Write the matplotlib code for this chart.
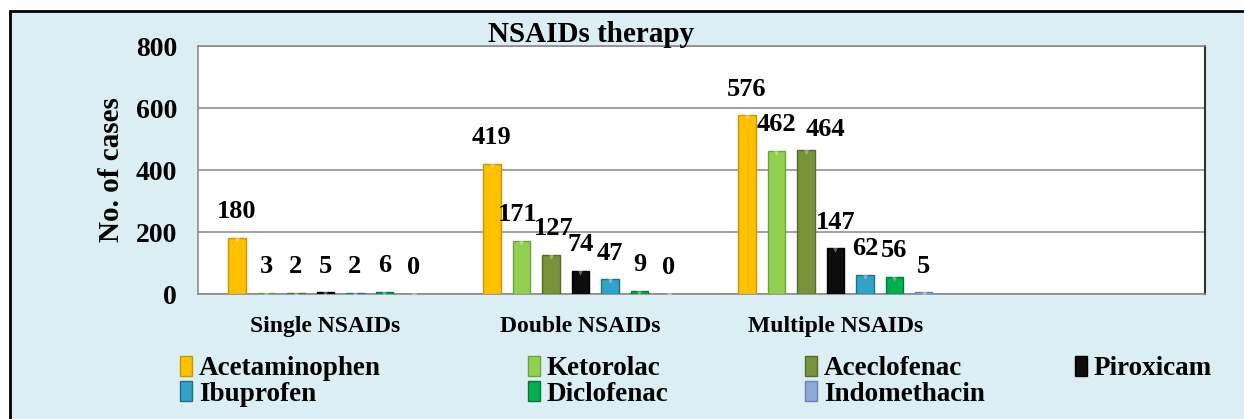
import numpy as np
import matplotlib.pyplot as plt
from matplotlib.patches import Rectangle

# Data
groups = ['Single NSAIDs', 'Double NSAIDs', 'Multiple NSAIDs']
drugs = ['Acetaminophen', 'Ketorolac', 'Aceclofenac', 'Piroxicam',
         'Ibuprofen', 'Diclofenac', 'Indomethacin']
acetaminophen = [180, 419, 576]
ketorolac = [3, 171, 462]
aceclofenac = [2, 127, 464]
piroxicam = [5, 74, 147]
ibuprofen = [2, 47, 62]
diclofenac = [6, 9, 56]
indomethacin = [0, 0, 5]
series = [acetaminophen, ketorolac, aceclofenac, piroxicam,
          ibuprofen, diclofenac, indomethacin]

colors = ['#FFC000', '#92D050', '#77933C', '#0D0D0D',
          '#31A3C6', '#00B050', '#8EA9DB']
edges = ['#C99700', '#6FA33A', '#566B2A', '#000000',
         '#216F87', '#007A3A', '#6A83B0']

# label nudges (points) where labels would collide: (series, group) -> (dx, dy)
nudges = {(2, 2): (14, -4), (1, 1): (-3, 0), (2, 1): (2, 0)}

plt.rcParams['font.family'] = ['Liberation Serif', 'DejaVu Serif']
plt.rcParams['font.weight'] = 'bold'

fig = plt.figure(figsize=(12.44, 4.19), dpi=100)
fig.patch.set_facecolor('white')

# light blue chart area with black frame
frame = Rectangle((10 / 1244, -0.02), 1.0, 1 - 11 / 419 + 0.02,
                  transform=fig.transFigure, facecolor='#DBEEF4',
                  edgecolor='black', linewidth=2, zorder=-10)
fig.patches.append(frame)

ax = fig.add_axes([198 / 1244, 1 - 294 / 419, 1007 / 1244, 248 / 419])
ax.set_facecolor('white')

x = np.arange(len(groups))
pitch = 0.1157
width = 0.068
for i, (vals, c, e) in enumerate(zip(series, colors, edges)):
    pos = x + (i - 3) * pitch
    ax.bar(pos, vals, width=width, color=c, edgecolor=e, linewidth=1,
           label=drugs[i], zorder=3)
    # small bevel triangle at the top of each bar
    ax.scatter(pos, vals, marker='v', s=40, color='white', alpha=0.35,
               linewidths=0, zorder=4)
    for j, (px, v) in enumerate(zip(pos, vals)):
        dx, dy = nudges.get((i, j), (0, 0))
        ax.annotate(str(v), (px, v), xytext=(dx, 19 + dy),
                    textcoords='offset points', ha='center', va='center',
                    fontsize=19, fontweight='bold')

ax.set_xlim(-0.5, 3.45)
ax.set_ylim(0, 800)
ax.set_yticks([0, 200, 400, 600, 800])
ax.tick_params(axis='y', labelsize=20, length=0, pad=15)
ax.set_xticks(x)
ax.set_xticklabels(groups, fontsize=17, fontweight='bold')
ax.tick_params(axis='x', length=0, pad=16)
ax.yaxis.grid(True, color='#909090', linewidth=1.2, zorder=0)
ax.set_axisbelow(True)
for side in ['left', 'bottom', 'top']:
    ax.spines[side].set_color('#8C8C8C')
    ax.spines[side].set_linewidth(1.2)
ax.spines['right'].set_color('#303030')
ax.spines['right'].set_linewidth(1.5)

ax.set_ylabel('No. of cases', fontsize=21, fontweight='bold', labelpad=8)

fig.text(591 / 1244, 1 - 34 / 419, 'NSAIDs therapy', ha='center', va='center',
         fontsize=21, fontweight='bold')

# legend laid out row by row in four columns, like the original
legend_cols = [[0, 4], [1, 5], [2, 6], [3]]
col_x = [180, 528, 805, 1075]
for idx, cx in zip(legend_cols, col_x):
    handles = [Rectangle((0, 0), 1, 1, facecolor=colors[k], edgecolor=edges[k])
               for k in idx]
    fig.legend(handles, [drugs[k] for k in idx], loc='upper left',
               bbox_to_anchor=(cx / 1244, 1 - 356 / 419), frameon=False,
               fontsize=19.5, handlelength=0.45, handleheight=0.75,
               handletextpad=0.25, labelspacing=0.0, borderpad=0,
               borderaxespad=0)

fig.savefig('out.png', dpi=100)
